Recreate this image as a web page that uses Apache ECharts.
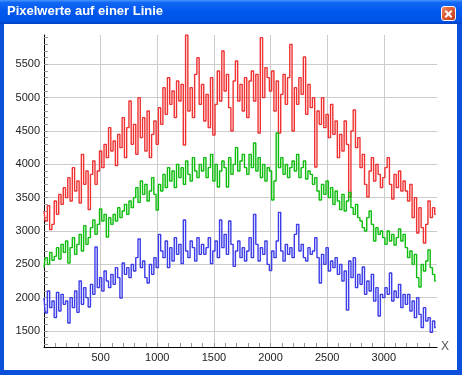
<!DOCTYPE html>
<html>
<head>
<meta charset="utf-8">
<script src="https://cdn.jsdelivr.net/npm/echarts@6/dist/echarts.min.js"></script>
<style>
html,body{margin:0;padding:0;width:462px;height:375px;overflow:hidden;background:#0a4fd8;}
#frame{position:absolute;left:0;top:0;width:462px;height:375px;background:#0b50da;}
#titlebar{position:absolute;left:0;top:0;width:462px;height:24px;
 background:linear-gradient(to bottom,#4a97ff 0%,#1368f5 10%,#0058ee 45%,#0054e6 85%,#0042c8 100%);}
#client{position:absolute;left:4px;top:24px;width:453px;height:346px;background:#ffffff;}
#close{position:absolute;left:441px;top:6px;width:13px;height:13px;border:1px solid #fff;border-radius:3px;
 background:linear-gradient(135deg,#f08a60 0%,#dc5a33 45%,#c43e1c 100%);}
#close:before,#close:after{content:"";position:absolute;left:2px;top:5.5px;width:9px;height:2px;background:#fff;}
#close:before{transform:rotate(45deg);}
#close:after{transform:rotate(-45deg);}
#chart{position:absolute;left:0;top:0;width:462px;height:375px;}
</style>
</head>
<body>
<div id="frame"></div>
<div id="titlebar"></div>
<div id="client"></div>
<div id="close"></div>
<div id="chart"></div>
<script>
// ---- data ----
const xStart = 0, xStep = 20;
const redValues = [
3300,3150,3380,3020,3100,3450,3250,3550,3400,3650,
3500,3800,3450,3950,3600,3750,3420,4150,3700,3900,
3320,3850,4050,3700,3900,4200,3950,4300,4100,4550,
4200,4350,3980,4450,4250,4700,4100,4550,4950,4300,
4600,4150,5000,4400,4700,4200,4800,4100,4450,4650,
4300,4850,4600,5150,4750,5300,4900,5100,4700,5250,
4950,5200,4290,5940,4800,5150,4700,5350,5600,4900,
5200,4650,5050,4550,5300,4440,4900,5400,4950,5700,
5100,5350,4850,4500,5250,5550,4950,5200,4800,5300,
4700,5250,5400,4950,5350,4470,5900,5000,5450,5300,
5100,5400,4800,5250,4470,5050,5350,4900,5300,5800,
4500,5150,4900,5300,5050,5610,4750,5200,4850,5000,
3960,4800,4600,5000,4550,4750,4400,4900,4450,4650,
4100,4450,4200,4650,4300,3510,4500,4815,4250,4400,
3950,4150,3700,3510,3900,4100,3750,4000,3850,3650,
3800,3950,4100,3700,3480,3850,3650,3900,3600,3750,
3600,3450,3700,3200,3500,2970,3350,3050,2820,3100,
3450,3200,3350,3250
];
const greenValues = [
2450,2600,2500,2680,2560,2620,2750,2580,2800,2680,
2850,2520,2750,2900,2650,2800,2950,2700,3080,2800,
2900,3050,3165,2950,3100,3330,3150,3250,2910,3200,
3100,3250,3150,3350,3200,3300,3400,3250,3450,3350,
3500,3650,3430,3750,3550,3700,3450,3600,3800,3550,
3315,3700,3600,3850,3650,3950,3750,3900,3650,4000,
3800,3950,3700,4050,3850,3750,4100,3900,3800,4000,
3900,4100,3800,3950,4150,3750,4000,3660,3900,4050,
3950,3660,4100,3850,4000,4250,3900,4050,4150,3950,
3850,4150,3950,4320,3900,4100,3800,4000,3750,3950,
3900,3465,3750,4470,3950,4100,3850,4000,3800,3950,
4050,3900,4150,3800,3950,4050,3780,3900,3850,3700,
3800,3600,3465,3700,3550,3750,3500,3650,3400,3600,
3450,3320,3550,3300,3450,3580,3350,3250,3400,3200,
3150,3050,3000,3200,3300,3100,2850,3050,2950,3000,
2900,2800,3000,2850,2950,2790,2900,3030,2850,2950,
2750,2600,2700,2500,2650,2300,2160,2500,2400,2550,
2715,2450,2350,2250
];
const blueValues = [
2000,1770,2100,1850,1950,1700,2080,1800,2050,1900,
1950,1620,2000,1850,2100,1780,2250,1900,2150,2000,
1860,2200,2050,2760,2150,2300,2100,2400,2250,2150,
2350,2200,2450,2300,1995,2520,2350,2450,2300,2500,
2400,2600,2880,2450,2550,2300,2220,2500,2350,2600,
2450,2950,2700,2600,2850,2450,2750,2550,2900,2650,
2800,2510,3165,2700,2600,2850,2750,2550,2900,2650,
2800,2650,2750,2900,2510,2700,2850,2600,3165,2750,
2950,2650,3150,2800,2470,2700,2850,2600,2750,2550,
2700,2900,2600,3250,2800,2550,2750,2650,2850,2500,
2405,2700,2600,2850,3280,2700,2550,2800,2650,2750,
2600,2950,3100,2700,2800,2600,2550,2750,2650,2700,
2900,2600,2220,2650,2500,2750,2400,2550,2450,2600,
2350,2500,2250,2400,1815,2550,2300,2600,2150,2350,
2200,2460,2050,2250,2100,2350,1950,2150,1725,2050,
2000,2150,2050,2370,1950,2100,2000,2200,1850,2050,
1900,2050,1800,1950,1700,2000,1750,1550,1850,1650,
1700,1480,1650,1550
];
const xLabelValues = [500,1000,1500,2000,2500,3000];
const yLabelValues = [1500,2000,2500,3000,3500,4000,4500,5000,5500];
const xMin = 0, xMax = 3470, yMin = 1260, yMax = 5940;
const chartTitle = 'Pixelwerte auf einer Linie';

// ---- build ----
function pairs(vals){ return vals.map((v,i)=>[xStart + i*xStep, v]); }
const xMinor = []; for (let v=100; v<xMax; v+=100) xMinor.push(v);
const yMinor = []; for (let v=1300; v<yMax; v+=100) yMinor.push(v);
const font = 'Liberation Sans, Arial, sans-serif';
const plain = v => String(v);

const chart = echarts.init(document.getElementById('chart'), null, {renderer:'canvas'});
const lineSeries = (vals, color) => ({
  type:'line', data: pairs(vals), step:'middle', showSymbol:false, symbol:'none',
  lineStyle:{color:color, width:1.4}, itemStyle:{color:color}, silent:true,
  xAxisIndex:0, yAxisIndex:0
});
chart.setOption({
  animation:false,
  backgroundColor:'transparent',
  title:{text:chartTitle, left:7, top:5, padding:0,
    textStyle:{color:'#ffffff', fontSize:13, fontWeight:'bold', fontFamily:font}},
  grid:{left:44, top:35, width:393, height:312, containLabel:false},
  xAxis:[
    {type:'value', min:xMin, max:xMax, position:'bottom',
     axisLine:{show:true, lineStyle:{color:'#000', width:1}},
     axisTick:{show:true, inside:true, length:4, customValues:xMinor, lineStyle:{color:'#999'}},
     axisLabel:{show:true, customValues:xLabelValues, formatter:plain, margin:5, fontSize:11, color:'#222', fontFamily:font},
     splitLine:{show:false},
     name:'X', nameLocation:'end', nameGap:4,
     nameTextStyle:{fontSize:12, color:'#555', fontFamily:font, verticalAlign:'middle'}},
    {type:'value', min:xMin, max:xMax, position:'bottom',
     axisLine:{show:false},
     axisTick:{show:false, customValues:xLabelValues},
     axisLabel:{show:false},
     splitLine:{show:true, lineStyle:{color:'#cccccc', width:1}}}
  ],
  yAxis:[
    {type:'value', min:yMin, max:yMax, position:'left',
     axisLine:{show:true, lineStyle:{color:'#000', width:1}},
     axisTick:{show:true, inside:true, length:4, customValues:yMinor, lineStyle:{color:'#999'}},
     axisLabel:{show:true, customValues:yLabelValues, formatter:plain, margin:4, fontSize:11, color:'#222', fontFamily:font},
     splitLine:{show:false}},
    {type:'value', min:yMin, max:yMax, position:'left',
     axisLine:{show:false},
     axisTick:{show:false, customValues:yLabelValues},
     axisLabel:{show:false},
     splitLine:{show:true, lineStyle:{color:'#cccccc', width:1}}}
  ],
  series:[
    lineSeries(redValues, '#f03232'),
    lineSeries(greenValues, '#0ebd0e'),
    lineSeries(blueValues, '#3c3ce8')
  ]
});
</script>
</body>
</html>
